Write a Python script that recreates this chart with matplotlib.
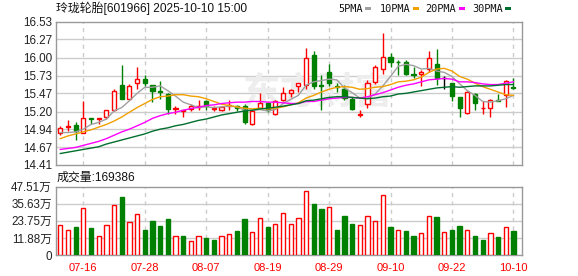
import matplotlib
matplotlib.use("Agg")
import matplotlib.pyplot as plt
from matplotlib.patches import Rectangle

plt.rcParams['font.family'] = ['Liberation Sans', 'Noto Sans CJK SC', 'DejaVu Sans']

# ---- data ----
dates = ['07-11', '07-14', '07-15', '07-16', '07-17', '07-18', '07-21', '07-22', '07-23', '07-24',
         '07-25', '07-28', '07-29', '07-30', '07-31', '08-01', '08-04', '08-05', '08-06', '08-07',
         '08-08', '08-11', '08-12', '08-13', '08-14', '08-15', '08-18', '08-19', '08-20', '08-21',
         '08-22', '08-25', '08-26', '08-27', '08-28', '08-29', '09-01', '09-02', '09-03', '09-04',
         '09-05', '09-08', '09-09', '09-10', '09-11', '09-12', '09-15', '09-16', '09-17', '09-18',
         '09-19', '09-22', '09-23', '09-24', '09-25', '09-26', '09-29', '09-30', '10-09', '10-10']

opens = [14.89, 14.97, 15.00, 14.89, 15.10, 15.09, 15.12, 15.22, 15.60, 15.39,
         15.62, 15.68, 15.59, 15.50, 15.46, 15.24, 15.21, 15.24, 15.27, 15.35,
         15.24, 15.22, 15.29, 15.29, 15.29, 15.02, 15.26, 15.32, 15.16, 15.37,
         15.47, 15.58, 15.59, 16.04, 15.59, 15.79, 15.58, 15.54, 15.39, 15.15,
         15.31, 15.64, 15.83, 16.01, 15.94, 15.94, 15.75, 15.76, 15.83, 15.90,
         15.69, 15.63, 15.41, 15.18, 15.46, 15.25, 15.26, 15.37, 15.45, 15.56]
highs = [14.99, 15.08, 15.05, 15.36, 15.11, 15.11, 15.23, 15.53, 15.89, 15.61,
         15.86, 15.74, 15.59, 15.65, 15.47, 15.28, 15.22, 15.31, 15.37, 15.37,
         15.28, 15.28, 15.37, 15.30, 15.31, 15.22, 15.47, 15.34, 15.37, 15.56,
         15.54, 15.63, 16.14, 16.09, 15.74, 15.90, 15.63, 15.60, 15.42, 15.22,
         15.67, 15.89, 16.36, 16.07, 15.97, 15.97, 15.86, 15.82, 16.10, 16.12,
         15.73, 15.63, 15.42, 15.50, 15.48, 15.35, 15.39, 15.46, 15.67, 15.70]
lows = [14.86, 14.92, 14.78, 14.88, 15.01, 15.02, 15.09, 15.21, 15.38, 15.38,
        15.54, 15.58, 15.34, 15.39, 15.17, 15.17, 15.12, 15.21, 15.22, 15.22,
        15.21, 15.21, 15.22, 15.21, 15.02, 15.00, 15.25, 15.20, 15.15, 15.36,
        15.42, 15.49, 15.53, 15.53, 15.22, 15.58, 15.49, 15.37, 15.22, 15.12,
        15.26, 15.61, 15.76, 15.86, 15.74, 15.74, 15.69, 15.58, 15.78, 15.59,
        15.53, 15.36, 15.12, 15.17, 15.23, 15.17, 15.12, 15.35, 15.27, 15.53]
closes = [14.95, 14.99, 14.92, 15.10, 15.09, 15.10, 15.22, 15.51, 15.38, 15.58,
          15.68, 15.63, 15.51, 15.49, 15.24, 15.26, 15.22, 15.29, 15.28, 15.28,
          15.25, 15.27, 15.30, 15.26, 15.04, 15.21, 15.33, 15.22, 15.36, 15.47,
          15.52, 15.62, 16.00, 15.58, 15.58, 15.63, 15.57, 15.40, 15.24, 15.16,
          15.62, 15.86, 16.01, 15.94, 15.93, 15.76, 15.74, 15.79, 16.00, 15.69,
          15.69, 15.43, 15.25, 15.49, 15.32, 15.26, 15.37, 15.36, 15.65, 15.55]

ma5 = [14.89, 14.89, 14.90, 14.94, 15.01, 15.04, 15.09, 15.21, 15.26, 15.36,
       15.47, 15.56, 15.56, 15.58, 15.51, 15.43, 15.34, 15.30, 15.26, 15.27,
       15.26, 15.27, 15.28, 15.27, 15.22, 15.22, 15.23, 15.21, 15.23, 15.32,
       15.38, 15.44, 15.59, 15.64, 15.66, 15.68, 15.67, 15.55, 15.48, 15.40,
       15.40, 15.46, 15.58, 15.72, 15.87, 15.90, 15.88, 15.83, 15.84, 15.80,
       15.78, 15.72, 15.61, 15.51, 15.44, 15.35, 15.34, 15.36, 15.39, 15.44]
ma10 = [14.80, 14.84, 14.87, 14.90, 14.93, 14.97, 15.01, 15.06, 15.12, 15.19,
        15.26, 15.32, 15.38, 15.42, 15.43, 15.45, 15.45, 15.43, 15.42, 15.39,
        15.35, 15.31, 15.29, 15.27, 15.25, 15.24, 15.25, 15.24, 15.25, 15.27,
        15.30, 15.33, 15.40, 15.44, 15.49, 15.53, 15.56, 15.57, 15.56, 15.53,
        15.54, 15.56, 15.57, 15.60, 15.64, 15.65, 15.67, 15.71, 15.78, 15.83,
        15.84, 15.80, 15.72, 15.68, 15.62, 15.57, 15.53, 15.49, 15.45, 15.44]
ma20 = [14.64, 14.655, 14.67, 14.70, 14.73, 14.76, 14.80, 14.85, 14.90, 14.94,
        14.99, 15.04, 15.10, 15.14, 15.17, 15.19, 15.22, 15.245, 15.265, 15.29,
        15.30, 15.32, 15.33, 15.34, 15.34, 15.35, 15.35, 15.34, 15.34, 15.33,
        15.32, 15.32, 15.35, 15.35, 15.37, 15.39, 15.40, 15.41, 15.41, 15.40,
        15.42, 15.45, 15.48, 15.52, 15.56, 15.59, 15.61, 15.64, 15.67, 15.68,
        15.69, 15.68, 15.64, 15.64, 15.63, 15.61, 15.60, 15.60, 15.62, 15.64]
ma30 = [14.58, 14.60, 14.62, 14.64, 14.66, 14.68, 14.72, 14.75, 14.78, 14.81,
        14.84, 14.87, 14.91, 14.94, 14.96, 14.99, 15.01, 15.04, 15.07, 15.09,
        15.12, 15.15, 15.17, 15.19, 15.21, 15.22, 15.24, 15.25, 15.265, 15.28,
        15.30, 15.32, 15.36, 15.37, 15.39, 15.41, 15.42, 15.42, 15.41, 15.40,
        15.39, 15.40, 15.42, 15.43, 15.46, 15.47, 15.49, 15.51, 15.53, 15.55,
        15.56, 15.57, 15.56, 15.57, 15.58, 15.58, 15.58, 15.59, 15.60, 15.60]

# volume in 万 shares, and whether the volume bar is drawn red (1) or green (0)
volume = [20.7, 17.4, 19.5, 32.6, 18.8, 13.0, 20.7, 34.7, 40.5, 23.0,
          28.4, 17.4, 23.7, 20.2, 25.1, 13.0, 13.3, 9.8, 13.0, 11.6,
          10.5, 13.0, 14.4, 16.7, 25.1, 16.0, 25.6, 19.3, 21.4, 29.1,
          21.4, 25.6, 44.4, 35.6, 32.1, 33.3, 17.4, 27.2, 21.6, 20.7,
          27.2, 23.7, 41.6, 19.5, 17.4, 16.7, 13.3, 15.1, 27.2, 26.5,
          15.8, 17.4, 20.2, 17.4, 13.3, 10.7, 15.1, 12.6, 19.3, 16.94]
vol_dir = [1, 1, 0, 1, 0, 1, 1, 1, 0, 1,
           1, 0, 0, 0, 0, 1, 0, 1, 1, 0,
           0, 1, 1, 0, 0, 1, 1, 0, 1, 1,
           1, 1, 1, 0, 0, 1, 0, 0, 0, 1,
           1, 1, 1, 0, 1, 0, 0, 1, 1, 0,
           1, 0, 0, 1, 0, 0, 1, 0, 1, 0]

price_ticks = [14.41, 14.67, 14.94, 15.20, 15.47, 15.73, 16.00, 16.27, 16.53]
vol_ticks = [0, 11.8775, 23.755, 35.6325, 47.51]
vol_labels = ['0', '11.88万', '23.75万', '35.63万', '47.51万']
date_ticks = [3, 11, 19, 27, 35, 43, 51, 59]

RED = '#ff0000'
GREEN = '#008000'
GRID = '#cccccc'
FRAME = '#999999'

W, H = 578, 276
fig = plt.figure(figsize=(W / 100, H / 100), dpi=100)


def box(l, t, r, b):
    return [l / W, 1 - b / H, (r - l) / W, (b - t) / H]


ax = fig.add_axes(box(56, 21.7, 522, 165))
axv = fig.add_axes(box(56, 186.7, 522, 255))

xs = list(range(len(dates)))
for a in (ax, axv):
    a.set_xlim(-0.56, 60.12)
    for s in a.spines.values():
        s.set_color(FRAME)
        s.set_linewidth(1)
    for t in date_ticks:
        a.axvline(t, color=GRID, lw=1, ls=(0, (3, 3)), zorder=0.5)
    a.tick_params(length=0)

# price panel
ax.set_ylim(14.41, 16.53)
ax.set_yticks(price_ticks)
ax.set_yticklabels(['%.2f' % v for v in price_ticks], fontsize=8.4, color='#222222')
ax.tick_params(axis='y', pad=3)
ax.set_xticks([])
for v in price_ticks[1:-1]:
    ax.axhline(v, color=GRID, lw=1, zorder=0.5)

# faint watermark
ax.text(33.5, 15.46, '东方财富', fontsize=27, color='#ededed', ha='center', va='center',
        fontweight='bold', zorder=0.6)

for i in xs:
    o, h, l, c = opens[i], highs[i], lows[i], closes[i]
    if c > o:
        col, face = RED, 'white'
    elif c < o:
        col, face = GREEN, GREEN
    else:
        col, face = 'black', 'black'
    lo, hi = min(o, c), max(o, c)
    ax.vlines(i, hi, h, color=col, lw=1, zorder=2)
    ax.vlines(i, l, lo, color=col, lw=1, zorder=2)
    ax.add_patch(Rectangle((i - 0.27, lo), 0.54, max(hi - lo, 0.001), facecolor=face,
                           edgecolor=col, lw=1, zorder=3))

ax.plot(xs, ma5, color='#a0a0a0', lw=1, zorder=4)
ax.plot(xs, ma10, color='#f0a000', lw=1, zorder=4)
ax.plot(xs, ma20, color='#ff00ff', lw=1, zorder=4)
ax.plot(xs, ma30, color='#006f2e', lw=1, zorder=4)

# volume panel
axv.set_ylim(0, 47.51)
axv.set_yticks(vol_ticks)
axv.set_yticklabels(vol_labels, fontsize=8.4, color='#222222')
axv.tick_params(axis='y', pad=3)
for v in vol_ticks[1:-1]:
    axv.axhline(v, color=GRID, lw=1, zorder=0.5)
for i in xs:
    if vol_dir[i]:
        axv.bar(i, volume[i], width=0.56, facecolor='white', edgecolor=RED, lw=1, zorder=3)
    else:
        axv.bar(i, volume[i], width=0.56, facecolor=GREEN, edgecolor=GREEN, lw=1, zorder=3)
axv.set_xticks(date_ticks)
axv.set_xticklabels([dates[t] for t in date_ticks], fontsize=8, color=RED)
axv.tick_params(axis='x', pad=6)

# texts
fig.text(56.5 / W, 1 - 8.5 / H, '玲珑轮胎[601966] 2025-10-10 15:00', fontsize=8.6,
         color='#111111', va='center', ha='left')
fig.text(57 / W, 1 - 178 / H, '成交量:169386', fontsize=8.6, color='#111111',
         va='center', ha='left')

legend = [('5PMA', 338, 365, '#a0a0a0'), ('10PMA', 380, 413, '#f0a000'),
          ('20PMA', 425, 459, '#ff00ff'), ('30PMA', 472, 505, '#006f2e')]
for name, tx, sx, col in legend:
    fig.text(tx / W, 1 - 8.5 / H, name, fontsize=7.4, family='DejaVu Sans Mono',
             color='#111111', va='center', ha='left')
    fig.patches.append(Rectangle((sx / W, 1 - 10 / H), 6 / W, 3 / H, facecolor=col,
                                 edgecolor='none', transform=fig.transFigure, figure=fig))

fig.savefig('out.png', dpi=100)
